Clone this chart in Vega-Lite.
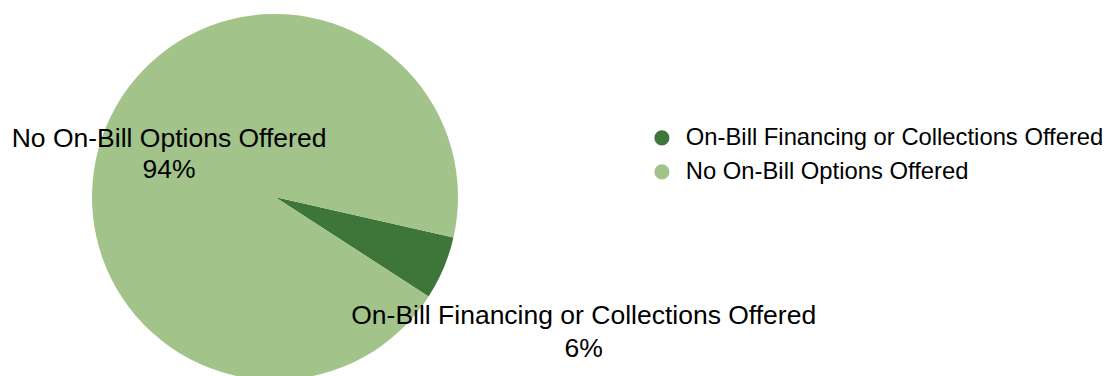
{
  "$schema": "https://vega.github.io/schema/vega-lite/v6.json",
  "autosize": {"type": "none"},
  "padding": {"top": 18, "left": 0, "right": 559, "bottom": 0},
  "width": 550,
  "height": 358,
  "background": "white",
  "config": {"view": {"stroke": null}, "font": "Liberation Sans"},
  "data": {
    "values": [
      {"category": "On-Bill Financing or Collections Offered", "value": 5.6, "pct": "6%"},
      {"category": "No On-Bill Options Offered", "value": 94.4, "pct": "94%"}
    ]
  },
  "transform": [{"calculate": "[datum.category, datum.pct]", "as": "label"}],
  "encoding": {
    "theta": {"field": "value", "type": "quantitative", "stack": true, "scale": {"range": [1.794, 8.077]}},
    "order": {"field": "category", "sort": "descending"},
    "color": {
      "field": "category",
      "type": "nominal",
      "scale": {
        "domain": ["On-Bill Financing or Collections Offered", "No On-Bill Options Offered"],
        "range": ["#3e7539", "#a2c38a"]
      },
      "legend": {
        "title": null,
        "orient": "none",
        "legendX": 650,
        "legendY": 108,
        "symbolType": "circle",
        "symbolSize": 227,
        "symbolStrokeWidth": 0,
        "labelFontSize": 23.8,
        "labelFont": "Liberation Sans",
        "labelColor": "#000000",
        "labelOffset": 12,
        "rowPadding": 9,
        "labelLimit": 600
      }
    }
  },
  "layer": [
    {"mark": {"type": "arc", "outerRadius": 183, "stroke": null}},
    {
      "mark": {"type": "text", "radius": 115, "dy": -13, "fontSize": 26.5, "lineHeight": 31, "align": "center", "baseline": "middle", "color": "#000000"},
      "encoding": {
        "text": {"condition": {"test": "datum.category == 'No On-Bill Options Offered'", "field": "label"}, "value": ""},
        "color": {"value": "#000000"}
      }
    },
    {
      "mark": {"type": "text", "radius": 335, "dy": -11, "fontSize": 26.5, "lineHeight": 33, "align": "center", "baseline": "middle", "color": "#000000"},
      "encoding": {
        "text": {"condition": {"test": "datum.category == 'On-Bill Financing or Collections Offered'", "field": "label"}, "value": ""},
        "color": {"value": "#000000"}
      }
    }
  ]
}
